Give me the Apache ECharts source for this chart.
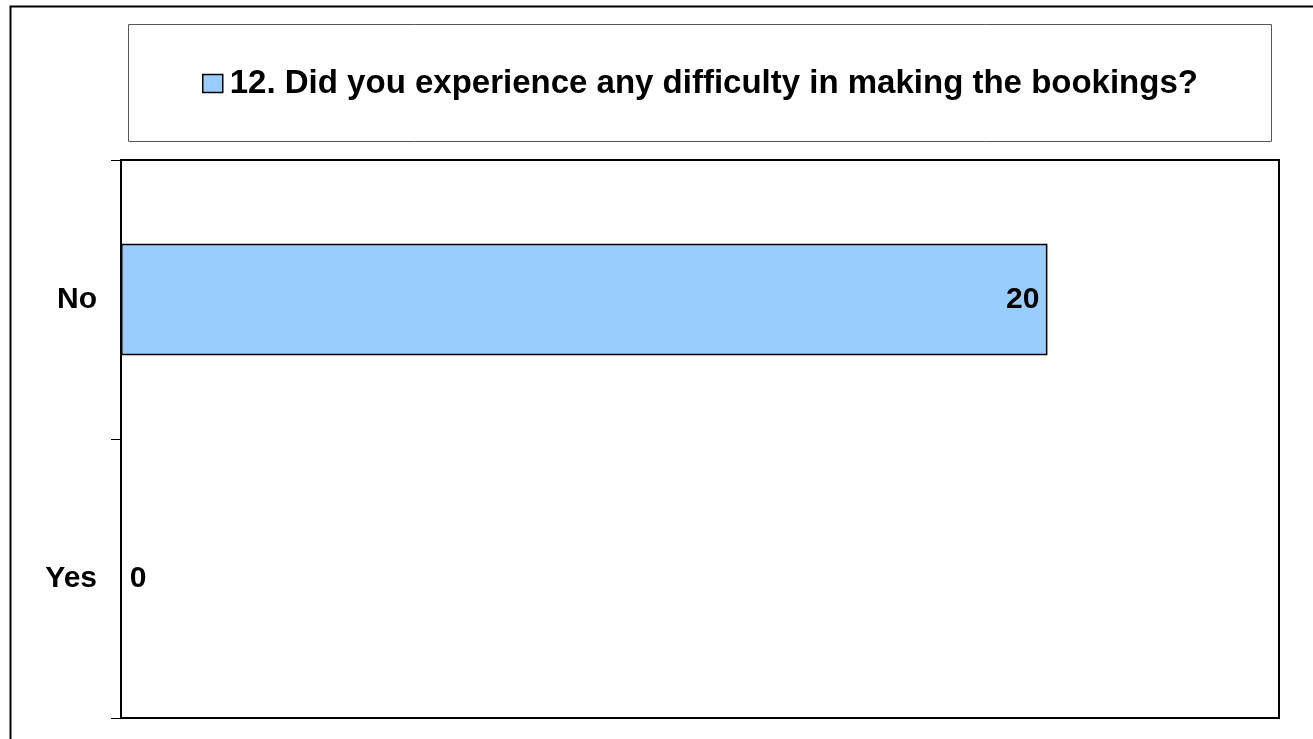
<!DOCTYPE html>
<html><head><meta charset="utf-8">
<script src="https://cdn.jsdelivr.net/npm/echarts@6/dist/echarts.min.js"></script>
<style>html,body{margin:0;padding:0;background:#fff}#c{width:1313px;height:739px}</style>
</head><body><div id="c"></div>
<script>
const categories = ['No', 'Yes'];
const values = [20, 0];
const seriesName = '12. Did you experience any difficulty in making the bookings?';
const axisMax = 25;

const chart = echarts.init(document.getElementById('c'));
const FONT = '"Liberation Sans", Arial, sans-serif';
chart.setOption({
  animation: false,
  backgroundColor: '#fff',
  graphic: [
    {type: 'rect', shape: {x: 10.5, y: 6.5, width: 1400, height: 800}, style: {fill: 'none', stroke: '#000', lineWidth: 2}, z: -1},
    {type: 'rect', shape: {x: 128.5, y: 24.5, width: 1143, height: 117}, style: {fill: '#fff', stroke: '#555', lineWidth: 1}, z: 0}
  ],
  legend: {
    left: 197, top: 62,
    itemWidth: 20, itemHeight: 18, itemGap: 10,
    icon: 'rect',
    textStyle: {fontFamily: FONT, fontWeight: 'bold', fontSize: 33, color: '#000', padding: [0, 0, 0, 2]},
    data: [{name: seriesName, itemStyle: {color: '#99ccff', borderColor: '#000', borderWidth: 1.5}}]
  },
  grid: {left: 121, top: 160, right: 34, bottom: 21, show: true, borderColor: '#000', borderWidth: 2, backgroundColor: '#fff'},
  xAxis: {type: 'value', min: 0, max: axisMax, show: false},
  yAxis: {
    type: 'category', data: categories, inverse: true,
    axisLine: {lineStyle: {color: '#000', width: 2}},
    axisTick: {show: true, length: 10, lineStyle: {color: '#000', width: 1}},
    axisLabel: {fontFamily: FONT, fontWeight: 'bold', fontSize: 30, color: '#000', margin: 24}
  },
  series: [{
    name: seriesName, type: 'bar', barWidth: '40%',
    itemStyle: {color: '#99ccff', borderColor: '#000', borderWidth: 1.5},
    label: {show: true, fontFamily: FONT, fontWeight: 'bold', fontSize: 30, color: '#000'},
    data: values.map(v => ({value: v, label: {position: v > 0 ? 'insideRight' : 'right', distance: 8}}))
  }]
});
</script></body></html>
